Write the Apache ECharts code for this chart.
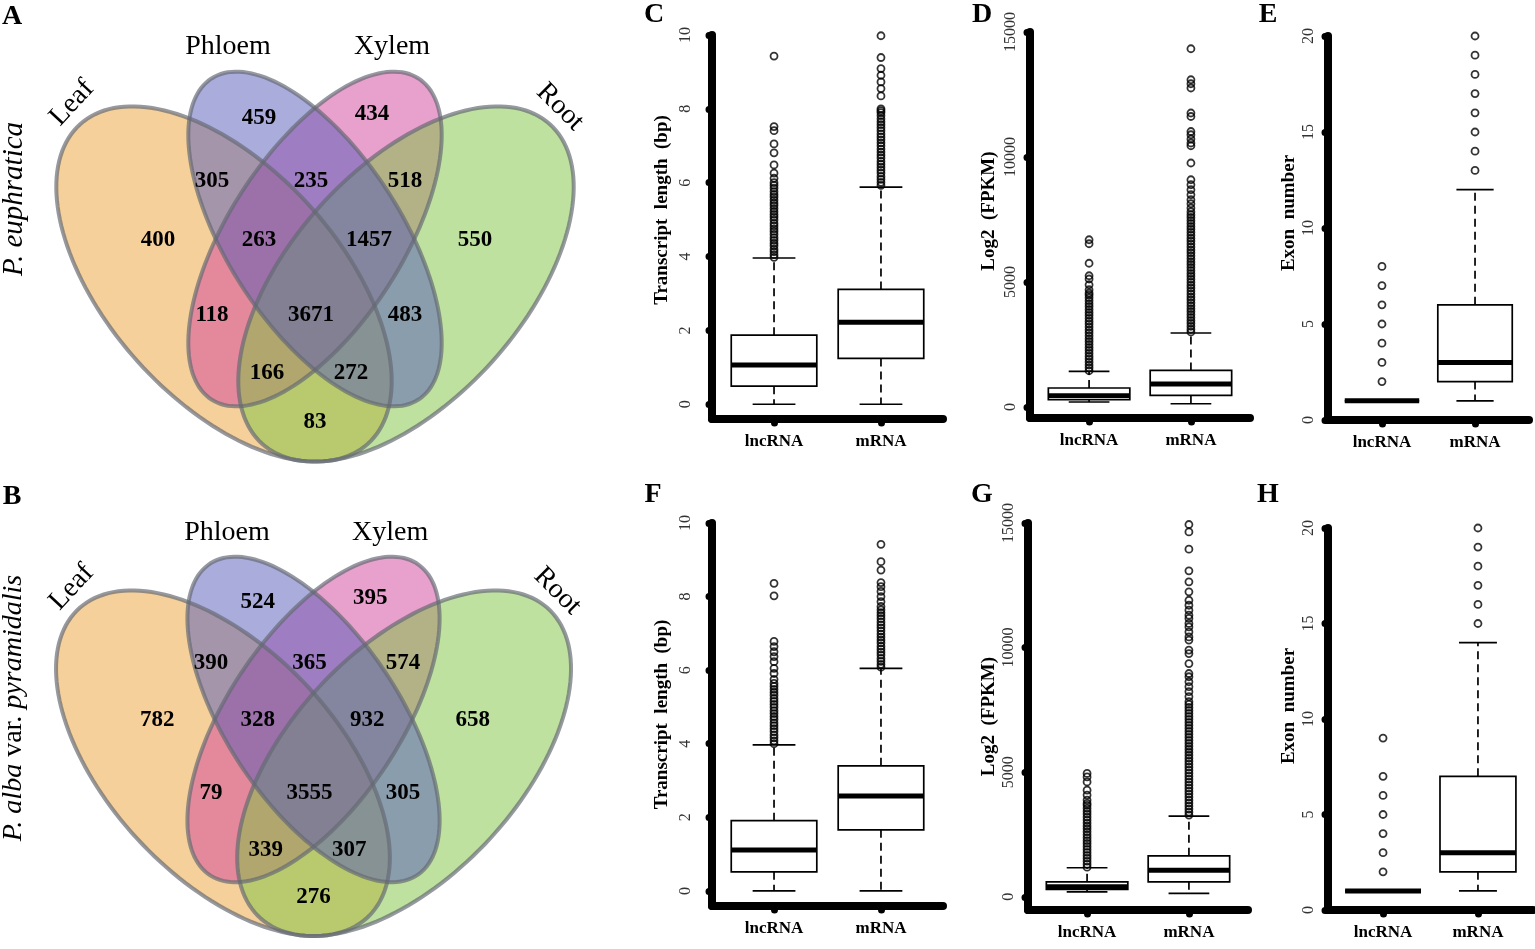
<!DOCTYPE html>
<html><head><meta charset="utf-8">
<script src="https://cdn.jsdelivr.net/npm/echarts@6/dist/echarts.min.js"></script>
<style>html,body{margin:0;padding:0;background:#fff}#c{width:1535px;height:949px}</style>
</head><body><div id="c"></div>
<script>
// ================= DATA =================
// Venn diagrams (4 tissues)
const vennSets = ['Leaf', 'Phloem', 'Xylem', 'Root'];
// region order: Phloem, Xylem, Leaf∩Phloem, Phloem∩Xylem, Xylem∩Root, Leaf, Leaf∩Phloem∩Xylem,
// Phloem∩Xylem∩Root, Root, Leaf∩Xylem, all four, Phloem∩Root, Leaf∩Xylem∩Root, Leaf∩Phloem∩Root, Leaf∩Root
const countsEuphratica = [459, 434, 305, 235, 518, 400, 263, 1457, 550, 118, 3671, 483, 166, 272, 83];
const countsAlba = [524, 395, 390, 365, 574, 782, 328, 932, 658, 79, 3555, 305, 339, 307, 276];

// Boxplots: categories and five-number summaries [lower whisker, Q1, median, Q3, upper whisker]
const groups = ['lncRNA', 'mRNA'];
const tickLen = [0, 2, 4, 6, 8, 10];
const tickFpkm = [0, 5000, 10000, 15000];
const tickExon = [0, 5, 10, 15, 20];

// C: P. euphratica transcript length
const lenEuLnc = [0, 0.49, 1.06, 1.87, 3.96];
const lenEuLncOut = [3.98,4.05,4.13,4.2,4.29,4.36,4.44,4.51,4.6,4.68,4.75,4.83,4.9,4.99,5.07,5.14,5.22,5.3,5.38,5.45,5.53,5.61,5.68,5.76,5.85,5.93,6.0,6.12,6.26,6.48,6.81,7.05,7.41,7.52,9.43];
const lenEuMrna = [0, 1.24, 2.22, 3.11, 5.88];
const lenEuMrnaOut = [5.93,6.01,6.09,6.17,6.26,6.34,6.42,6.5,6.58,6.67,6.75,6.83,6.91,7.0,7.08,7.16,7.24,7.32,7.41,7.49,7.57,7.65,7.73,7.82,7.9,7.95,8.0,8.35,8.55,8.73,8.91,9.09,9.39,9.98];
// D: P. euphratica expression
const fpkmEuLnc = [200, 290, 450, 760, 1425];
const fpkmEuLncOut = [1450,1570,1680,1800,1920,2030,2150,2270,2380,2500,2620,2730,2850,2970,3080,3200,3320,3430,3550,3670,3780,3900,4020,4130,4250,4370,4480,4560,4690,4890,5120,5250,5750,6530,6690];
const fpkmEuMrna = [130, 465, 920, 1465, 2960];
const fpkmEuMrnaOut = [3000,3110,3230,3350,3460,3580,3700,3820,3930,4050,4170,4290,4400,4520,4640,4760,4870,4990,5110,5230,5340,5460,5580,5700,5810,5930,6050,6170,6280,6400,6520,6640,6750,6870,6990,7110,7220,7340,7460,7580,7690,7810,7960,8130,8290,8490,8690,8890,9090,9760,10450,10560,10720,10890,11020,11620,11760,12760,12930,13090,14330];
// E: P. euphratica exon number
const exonEuLnc = [1, 1, 1, 1, 1];
const exonEuLncOut = [2, 3, 4, 5, 6, 7, 8];
const exonEuMrna = [1, 2, 3, 6, 12];
const exonEuMrnaOut = [13, 14, 15, 16, 17, 18, 19, 20];
// F: P. alba var. pyramidalis transcript length
const lenAlLnc = [0, 0.52, 1.11, 1.91, 3.97];
const lenAlLncOut = [4.0,4.08,4.16,4.24,4.33,4.41,4.49,4.57,4.66,4.74,4.82,4.9,4.99,5.07,5.15,5.23,5.32,5.4,5.48,5.56,5.64,5.75,5.91,6.05,6.23,6.37,6.5,6.64,6.78,8.02,8.36];
const lenAlMrna = [0, 1.66, 2.58, 3.40, 6.05];
const lenAlMrnaOut = [6.08,6.16,6.24,6.32,6.41,6.49,6.57,6.65,6.74,6.82,6.9,6.98,7.07,7.15,7.23,7.31,7.4,7.48,7.56,7.64,7.73,7.86,8.0,8.14,8.27,8.38,8.72,8.95,9.42];
// G: P. alba var. pyramidalis expression
const fpkmAlLnc = [200, 300, 400, 600, 1165];
const fpkmAlLncOut = [1190,1310,1430,1550,1660,1780,1900,2020,2140,2250,2370,2490,2610,2730,2840,2960,3080,3200,3320,3430,3550,3670,3750,3880,4080,4280,4610,4810,4950];
const fpkmAlMrna = [135, 600, 1070, 1645, 3240];
const fpkmAlMrnaOut = [3280,3400,3520,3640,3760,3880,4000,4120,4240,4360,4480,4600,4720,4840,4960,5080,5200,5320,5440,5560,5680,5800,5920,6040,6160,6280,6400,6520,6640,6760,6880,7000,7120,7240,7360,7480,7600,7720,7830,8030,8230,8430,8630,8830,8960,9360,9760,9900,10300,10430,10630,10830,10970,11170,11300,11500,11700,11900,12240,12640,13080,13950,14640,14940];
// H: P. alba var. pyramidalis exon number
const exonAlLnc = [1, 1, 1, 1, 1];
const exonAlLncOut = [2, 3, 4, 5, 6, 7, 9];
const exonAlMrna = [1, 2, 3, 7, 14];
const exonAlMrnaOut = [15, 16, 17, 18, 19, 20];

// ================= LAYOUT =================
const SERIF = '"Liberation Serif","Times New Roman",serif';
// ellipse geometry in venn-local coordinates: cx, cy, semi-major, semi-minor, angle(deg), fill
const ELLIPSES = [
  [224, 284, 215, 116, 48, 'rgba(235,161,54,0.5)'],    // Leaf
  [315, 239, 191, 87, 57.2, 'rgba(85,89,185,0.5)'],    // Phloem
  [315, 239, 191, 87, 122.8, 'rgba(209,65,155,0.5)'],  // Xylem
  [406, 284, 215, 116, 132, 'rgba(125,195,65,0.5)']    // Root
];
const DRAW_ORDER = [0, 2, 3, 1];
const REGION_POS = [[259,118],[372,114],[212,181],[311,181],[405,181],[158,240],[259,240],[369,240],[475,240],[212,315],[311,315],[405,315],[267,373],[351,373],[315,422]];
const SET_POS = [[72,103,47],[228,47,0],[392,47,0],[560,107,-45]];

function ellipsePts(api, e) {
  const r = e[4] * Math.PI / 180, pts = [];
  for (let i = 0; i < 160; i++) {
    const t = i / 160 * 2 * Math.PI;
    const x = e[0] + e[2] * Math.cos(t) * Math.cos(r) - e[3] * Math.sin(t) * Math.sin(r);
    const y = e[1] + e[2] * Math.cos(t) * Math.sin(r) + e[3] * Math.sin(t) * Math.cos(r);
    pts.push(api.coord([x, y]));
  }
  return pts;
}

const grids = [], xAxes = [], yAxes = [], series = [];

function addVenn(counts, left, top) {
  const gi = grids.length;
  grids.push({left: left, top: top, width: 640, height: 475});
  xAxes.push({gridIndex: gi, type: 'value', min: 0, max: 640, show: false});
  yAxes.push({gridIndex: gi, type: 'value', min: 0, max: 475, inverse: true, show: false});
  series.push({
    type: 'custom', xAxisIndex: gi, yAxisIndex: gi, silent: true, z: 1,
    data: DRAW_ORDER.map(i => [i, 0]),
    renderItem: (p, api) => {
      const e = ELLIPSES[api.value(0)];
      return {type: 'polygon', shape: {points: ellipsePts(api, e)}, style: {fill: e[5], stroke: null}};
    }
  });
  series.push({
    type: 'custom', xAxisIndex: gi, yAxisIndex: gi, silent: true, z: 2,
    data: DRAW_ORDER.map(i => [i, 0]),
    renderItem: (p, api) => {
      const e = ELLIPSES[api.value(0)];
      return {type: 'polygon', shape: {points: ellipsePts(api, e)}, style: {fill: 'none', stroke: 'rgba(100,105,115,0.68)', lineWidth: 4}};
    }
  });
  series.push({
    type: 'custom', xAxisIndex: gi, yAxisIndex: gi, silent: true, z: 3,
    data: counts.map((c, k) => [REGION_POS[k][0], REGION_POS[k][1], c]),
    renderItem: (p, api) => {
      const pt = api.coord([api.value(0), api.value(1)]);
      return {type: 'text', x: pt[0], y: pt[1], style: {text: String(api.value(2)), font: 'bold 23px ' + SERIF, fill: '#000', align: 'center', verticalAlign: 'middle'}};
    }
  });
  series.push({
    type: 'custom', xAxisIndex: gi, yAxisIndex: gi, silent: true, z: 3,
    data: vennSets.map((s, k) => [SET_POS[k][0], SET_POS[k][1], k]),
    renderItem: (p, api) => {
      const k = api.value(2);
      const pt = api.coord([api.value(0), api.value(1)]);
      return {type: 'text', x: pt[0], y: pt[1], rotation: SET_POS[k][2] * Math.PI / 180,
        style: {text: vennSets[k], font: '28px ' + SERIF, fill: '#000', align: 'center', verticalAlign: 'middle'}};
    }
  });
}
addVenn(countsEuphratica, 0, 0);
addVenn(countsAlba, -3, 487);

const PANELS = [
  {left: 712, top: 35, width: 231, height: 384, ymin: -0.4, ymax: 10, ticks: tickLen, name: 'Transcript  length  (bp)', nameGap: 40, nameShift: 34, margin: 18, lnc: lenEuLnc, mrna: lenEuMrna, lncOut: lenEuLncOut, mrnaOut: lenEuMrnaOut},
  {left: 1030, top: 32, width: 220, height: 386, ymin: -440, ymax: 15000, ticks: tickFpkm, name: 'Log2  (FPKM)', nameGap: 31, nameShift: 28, margin: 11, lnc: fpkmEuLnc, mrna: fpkmEuMrna, lncOut: fpkmEuLncOut, mrnaOut: fpkmEuMrnaOut},
  {left: 1328, top: 36, width: 201, height: 384, ymin: 0, ymax: 20, ticks: tickExon, name: 'Exon  number', nameGap: 29, nameShift: 30, margin: 11, lnc: exonEuLnc, mrna: exonEuMrna, lncOut: exonEuLncOut, mrnaOut: exonEuMrnaOut},
  {left: 712, top: 523, width: 231, height: 383, ymin: -0.41, ymax: 10, ticks: tickLen, name: 'Transcript  length  (bp)', nameGap: 40, nameShift: 0, margin: 18, lnc: lenAlLnc, mrna: lenAlMrna, lncOut: lenAlLncOut, mrnaOut: lenAlMrnaOut},
  {left: 1028, top: 523, width: 220, height: 387, ymin: -530, ymax: 15000, ticks: tickFpkm, name: 'Log2  (FPKM)', nameGap: 29, nameShift: 0, margin: 11, lnc: fpkmAlLnc, mrna: fpkmAlMrna, lncOut: fpkmAlLncOut, mrnaOut: fpkmAlMrnaOut},
  {left: 1328, top: 528, width: 205, height: 382, ymin: 0, ymax: 20, ticks: tickExon, name: 'Exon  number', nameGap: 29, nameShift: 26, margin: 11, lnc: exonAlLnc, mrna: exonAlMrna, lncOut: exonAlLncOut, mrnaOut: exonAlMrnaOut}
];

const AXLINE = {color: '#000', width: 8, cap: 'round'};
const TICKLINE = {color: '#000', width: 7, cap: 'round'};

PANELS.forEach(P => {
  const gi = grids.length;
  grids.push({left: P.left, top: P.top, width: P.width, height: P.height});
  xAxes.push({
    gridIndex: gi, type: 'value', min: 0.42, max: 2.58,
    axisLine: {show: true, onZero: false, lineStyle: AXLINE},
    axisTick: {show: true, customValues: [1, 2], length: 4, lineStyle: TICKLINE},
    axisLabel: {show: true, customValues: [1, 2], formatter: v => groups[Math.round(v) - 1], margin: 14,
      fontFamily: SERIF, fontWeight: 'bold', fontSize: 17, color: '#000'},
    splitLine: {show: false}
  });
  yAxes.push({
    gridIndex: gi, type: 'value', min: P.ymin, max: P.ymax,
    name: P.name, nameLocation: 'middle', nameGap: P.nameGap,
    nameTextStyle: {fontFamily: SERIF, fontWeight: 'bold', fontSize: 19, color: '#000', padding: [0, 0, 0, P.nameShift]},
    axisLine: {show: true, onZero: false, lineStyle: AXLINE},
    axisTick: {show: true, customValues: P.ticks, length: 3, lineStyle: TICKLINE},
    axisLabel: {show: true, customValues: P.ticks, rotate: 90, margin: P.margin, formatter: v => String(v),
      fontFamily: SERIF, fontSize: 16, color: '#333'},
    splitLine: {show: false}
  });
  series.push({
    type: 'custom', xAxisIndex: gi, yAxisIndex: gi, silent: true, z: 2,
    data: [[1].concat(P.lnc), [2].concat(P.mrna)],
    renderItem: (p, api) => {
      const x = api.value(0);
      const c = v => api.coord([x, v]);
      const pLo = c(api.value(1)), pQ1 = c(api.value(2)), pMd = c(api.value(3)), pQ3 = c(api.value(4)), pHi = c(api.value(5));
      const w = api.size([0.4, 0])[0], cw = api.size([0.2, 0])[0];
      const X = pMd[0];
      const st = {stroke: '#000', lineWidth: 1.7, fill: null};
      return {type: 'group', children: [
        {type: 'line', shape: {x1: X, y1: pQ3[1], x2: X, y2: pHi[1]}, style: Object.assign({lineDash: [8, 5]}, st)},
        {type: 'line', shape: {x1: X, y1: pQ1[1], x2: X, y2: pLo[1]}, style: Object.assign({lineDash: [8, 5]}, st)},
        {type: 'line', shape: {x1: X - cw, y1: pHi[1], x2: X + cw, y2: pHi[1]}, style: st},
        {type: 'line', shape: {x1: X - cw, y1: pLo[1], x2: X + cw, y2: pLo[1]}, style: st},
        {type: 'rect', shape: {x: X - w, y: pQ3[1], width: 2 * w, height: pQ1[1] - pQ3[1]}, style: {fill: '#fff', stroke: '#000', lineWidth: 1.7}},
        {type: 'line', shape: {x1: X - w, y1: pMd[1], x2: X + w, y2: pMd[1]}, style: {stroke: '#000', lineWidth: 5}}
      ]};
    }
  });
  series.push({
    type: 'scatter', xAxisIndex: gi, yAxisIndex: gi, silent: true, z: 3,
    symbol: 'circle', symbolSize: 7,
    itemStyle: {color: 'rgba(0,0,0,0)', borderColor: '#000', borderWidth: 1.8},
    data: P.lncOut.map(v => [1, v]).concat(P.mrnaOut.map(v => [2, v]))
  });
});

const letterFont = 'bold 28px ' + SERIF;
const graphic = [
  ['A', 12, 17], ['B', 12, 497], ['C', 654, 15], ['D', 982, 15], ['E', 1268, 15],
  ['F', 653, 495], ['G', 982, 495], ['H', 1268, 495]
].map(d => ({type: 'text', x: d[1], y: d[2], style: {text: d[0], font: letterFont, fill: '#000', align: 'center', verticalAlign: 'middle'}}));
graphic.push({type: 'text', x: 14, y: 199, rotation: Math.PI / 2,
  style: {text: 'P. euphratica', font: 'italic 29px ' + SERIF, fill: '#000', align: 'center', verticalAlign: 'middle'}});
graphic.push({type: 'text', x: 14, y: 708, rotation: Math.PI / 2,
  style: {text: '{i|P. alba} var. {i|pyramidalis}', font: '28px ' + SERIF, fill: '#000', align: 'center', verticalAlign: 'middle',
    rich: {i: {fontStyle: 'italic', fontFamily: SERIF, fontSize: 28}}}});

const chart = echarts.init(document.getElementById('c'));
chart.setOption({
  backgroundColor: '#fff',
  animation: false,
  grid: grids, xAxis: xAxes, yAxis: yAxes, series: series, graphic: graphic
});
</script></body></html>
